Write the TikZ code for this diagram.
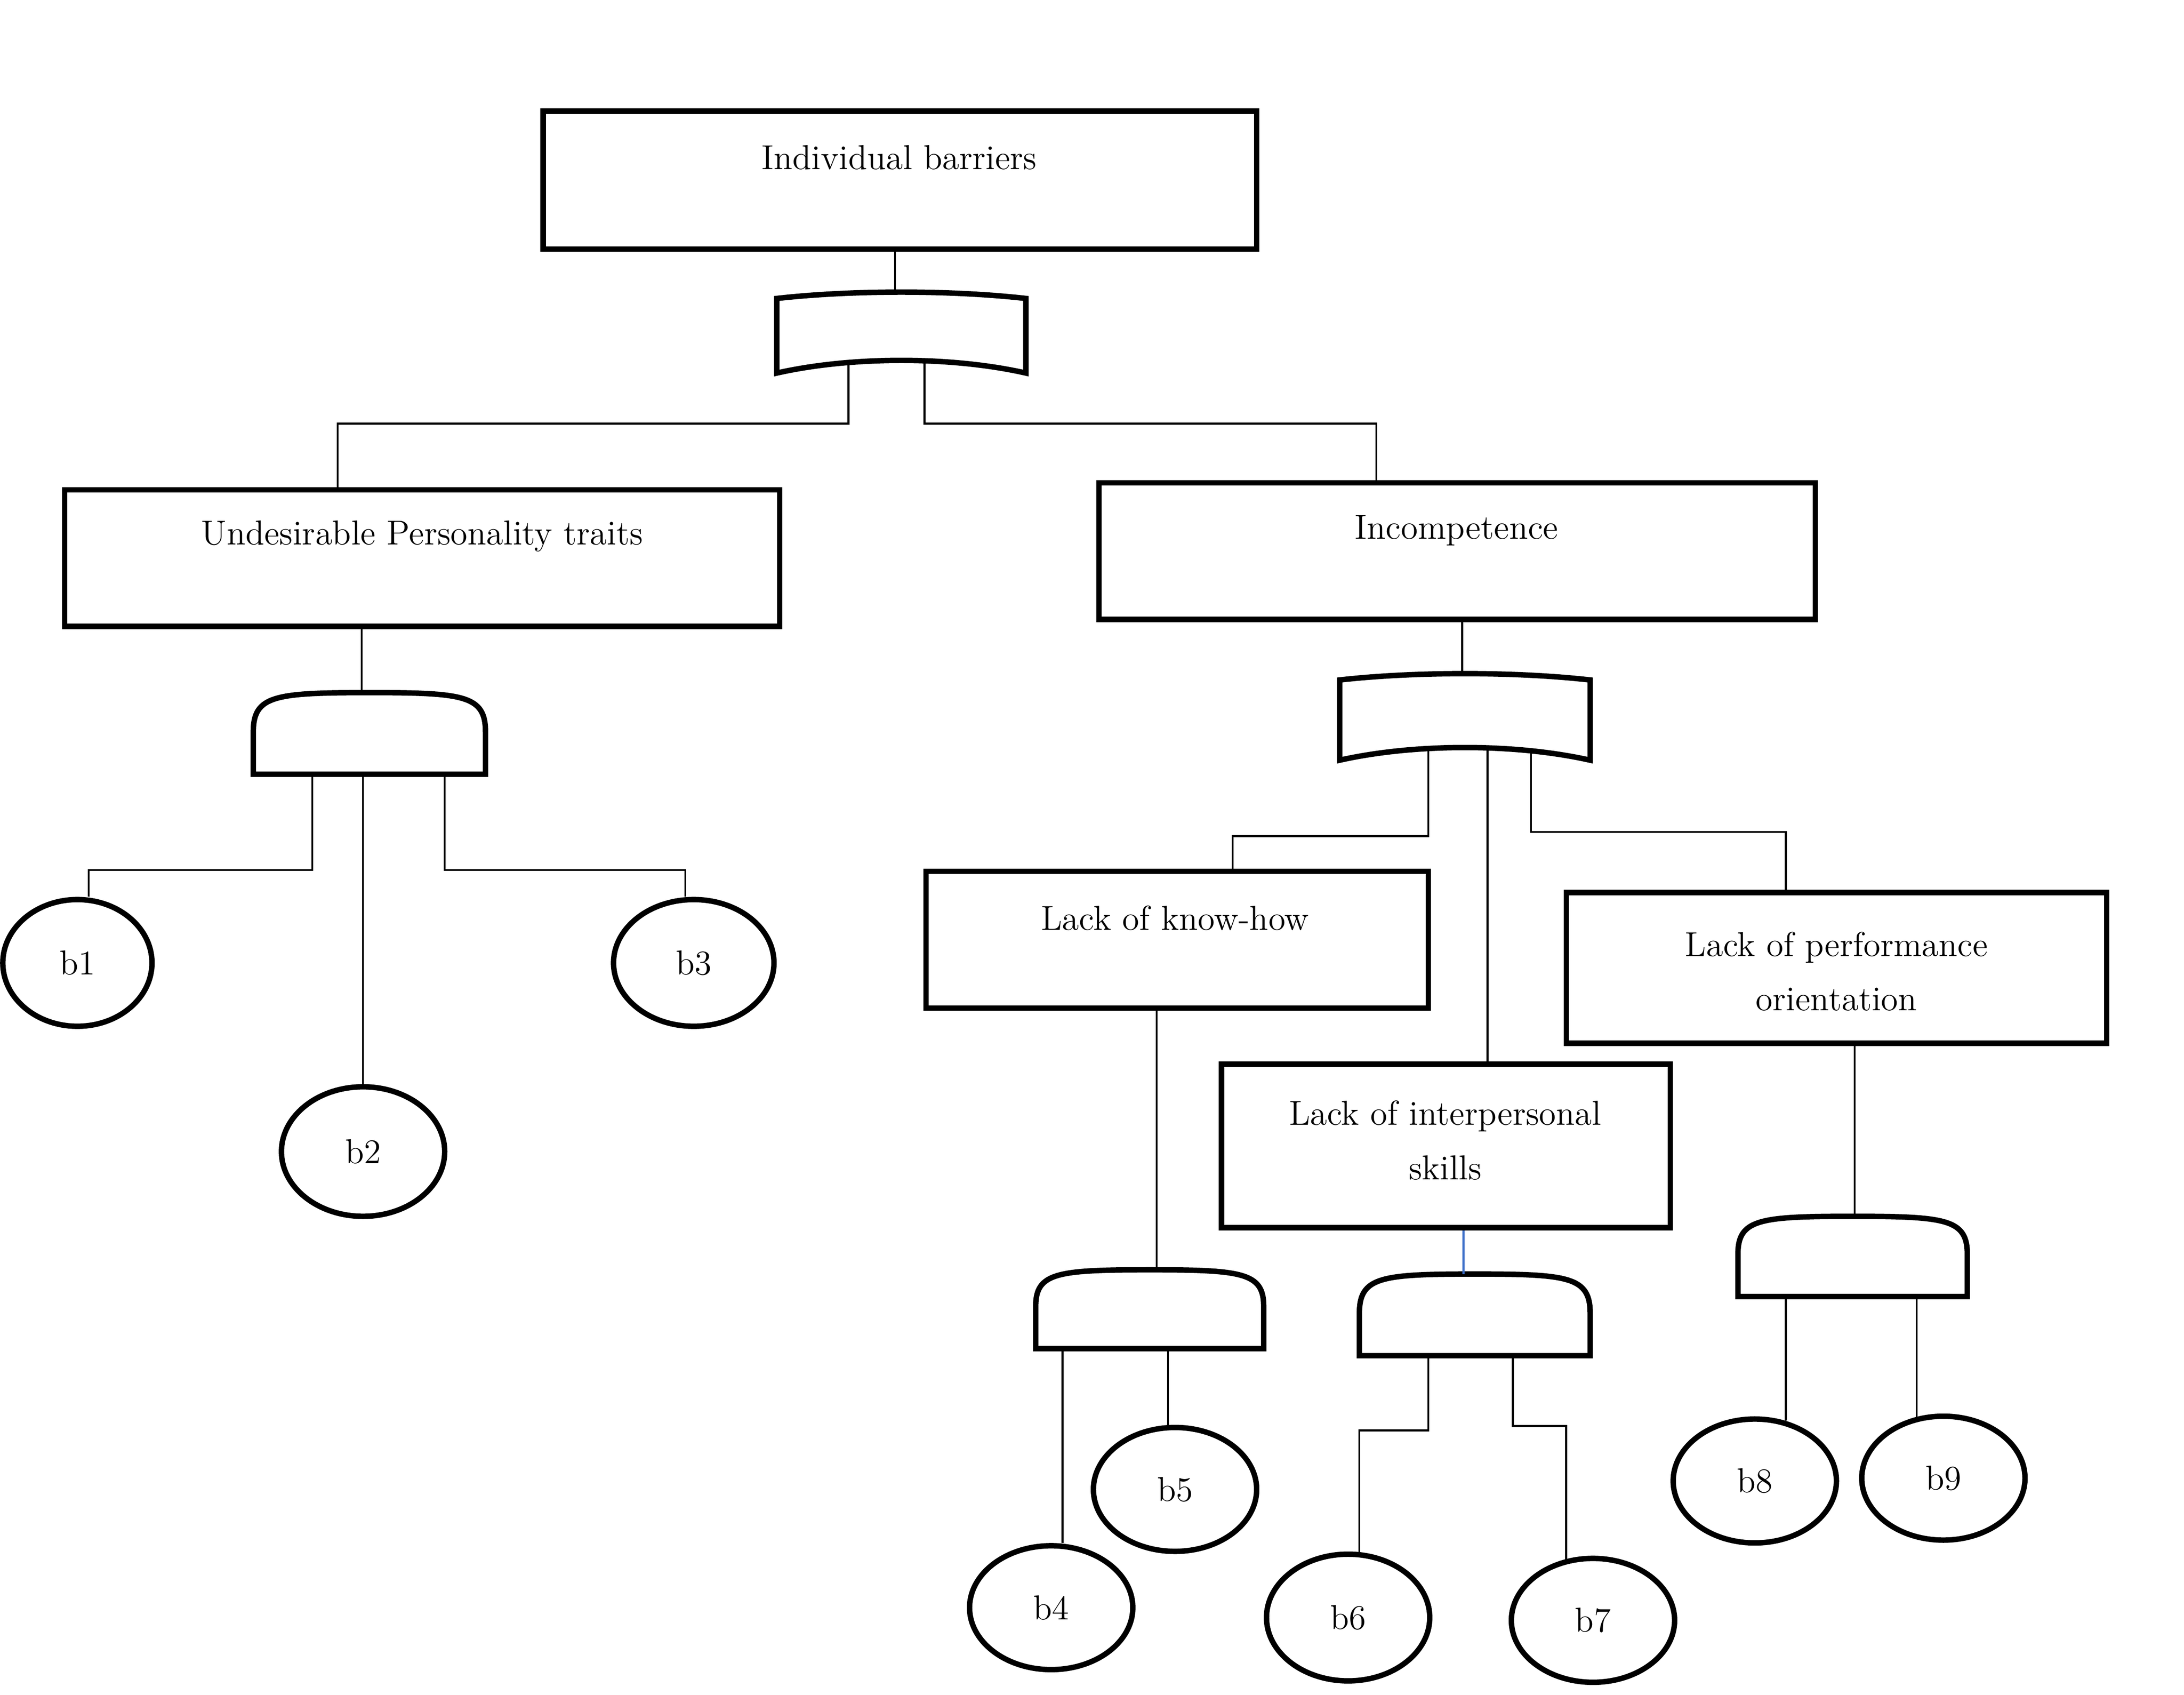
\documentclass[tikz,border=0pt]{standalone}
\usetikzlibrary{shapes.geometric,calc}
\begin{document}
\begin{tikzpicture}[x=0.02cm,y=-0.02cm,
  box/.style={draw,line width=2.2pt,rectangle,inner sep=0pt},
  lbl/.style={font=\fontsize{14}{22}\selectfont,align=center,inner sep=0pt},
  leaf/.style={draw,line width=2.2pt,ellipse,inner sep=0pt,font=\fontsize{14}{16}\selectfont},
  gate/.style={line width=2.2pt},
  wire/.style={line width=0.8pt}]
\useasboundingbox (0,0) rectangle (1552,1204);
\newcommand\mkbox[5]{\node[box,minimum width={(#4-#2)*0.02cm},minimum height={(#5-#3)*0.02cm}] (#1) at ({(#2+#4)/2},{(#3+#5)/2}) {};}
\newcommand\orgate[5]{\node[inner sep=0pt,minimum width={(#3-#2)*0.02cm},minimum height={(#5-#4)*0.02cm}] (#1) at ({(#2+#3)/2},{(#4+#5)/2}) {};
  \draw[gate] (#2,#5) -- (#2,#4+5) .. controls ({#2+(#3-#2)*0.3},#4-1) and ({#2+(#3-#2)*0.7},#4-1) .. (#3,#4+5) -- (#3,#5) .. controls ({#2+(#3-#2)*0.7},#5-12) and ({#2+(#3-#2)*0.3},#5-12) .. cycle;}
\newcommand\andgate[5]{\node[inner sep=0pt,minimum width={(#3-#2)*0.02cm},minimum height={(#5-#4)*0.02cm}] (#1) at ({(#2+#3)/2},{(#4+#5)/2}) {};
  \draw[gate] (#2,#5) -- (#2,#5-30) .. controls (#2,{#4+2}) and ({#2+15},#4) .. ({(#2+#3)/2},#4) .. controls ({#3-15},#4) and (#3,{#4+2}) .. (#3,#5-30) -- (#3,#5) -- cycle;}
\newcommand\leaf[5]{\node[leaf,minimum width={2*#4*0.02cm},minimum height={2*#5*0.02cm}] (#1) at (#2,#3) {#1};}
% boxes
\mkbox{ib}{386}{79}{893}{177}
\node[lbl] at (639,112) {Individual barriers};
\mkbox{up}{46}{348}{554}{445}
\node[lbl] at (300,381) {Undesirable Personality traits};
\mkbox{inc}{781}{343}{1290}{440}
\node[lbl] at (1035,377) {Incompetence};
\mkbox{kh}{658}{619}{1015}{716}
\node[lbl] at (835,652) {Lack of know-how};
\mkbox{po}{1113}{634}{1497}{741}
\node[lbl] at (1305,690) {Lack of performance\\orientation};
\mkbox{ip}{868}{756}{1187}{872}
\node[lbl] at (1027,810) {Lack of interpersonal\\skills};
% gates
\orgate{g1}{552}{729}{207}{265}
\andgate{g2}{180}{345}{492}{550}
\orgate{g3}{952}{1130}{478}{540}
\andgate{g4}{736}{898}{902}{958}
\andgate{g5}{966}{1130}{905}{963}
\andgate{g6}{1235}{1398}{864}{921}
% leaves
\leaf{b1}{55}{684}{53}{45}
\leaf{b2}{258}{818}{58}{46}
\leaf{b3}{493}{684}{57}{45}
\leaf{b4}{747}{1142}{58}{44}
\leaf{b5}{835}{1058}{58}{44}
\leaf{b6}{958}{1149}{58}{45}
\leaf{b7}{1132}{1151}{58}{44}
\leaf{b8}{1247}{1052}{58}{44}
\leaf{b9}{1381}{1050}{58}{44}
% wires
\draw[wire] (ib.south -| 636,0) -- (636,208);
\draw[wire] (603,258) -- (603,301) -| (up.north -| 240,0);
\draw[wire] (657,258) -- (657,301) -| (inc.north -| 978,0);
\draw[wire] (up.south -| 257,0) -- (257,492);
\draw[wire] (222,550) |- (63,618) -- (b1.north -| 63,0);
\draw[wire] (258,550) -- (b2.north);
\draw[wire] (316,550) |- (487,618) -- (b3.north -| 487,0);
\draw[wire] (inc.south -| 1039,0) -- (1039,479);
\draw[wire] (1015,532) |- (876,594) -- (kh.north -| 876,0);
\draw[wire] (1057,530) -- (ip.north -| 1057,0);
\draw[wire] (1088,532) |- (1269,591) -- (po.north -| 1269,0);
\draw[wire] (kh.south -| 822,0) -- (822,902);
\draw[wire,draw={rgb,255:red,60;green,110;blue,200}] (ip.south -| 1040,0) -- (1040,905);
\draw[wire] (po.south -| 1318,0) -- (1318,864);
\draw[wire] (755,958) -- (b4.north -| 755,0);
\draw[wire] (830,958) -- (b5.north -| 830,0);
\draw[wire] (1015,963) |- (966,1016) -- (966,1105);
\draw[wire] (1075,963) |- (1113,1013) -- (1113,1108);
\draw[wire] (1269,921) -- (1269,1009);
\draw[wire] (1362,921) -- (1362,1007);
\end{tikzpicture}
\end{document}
